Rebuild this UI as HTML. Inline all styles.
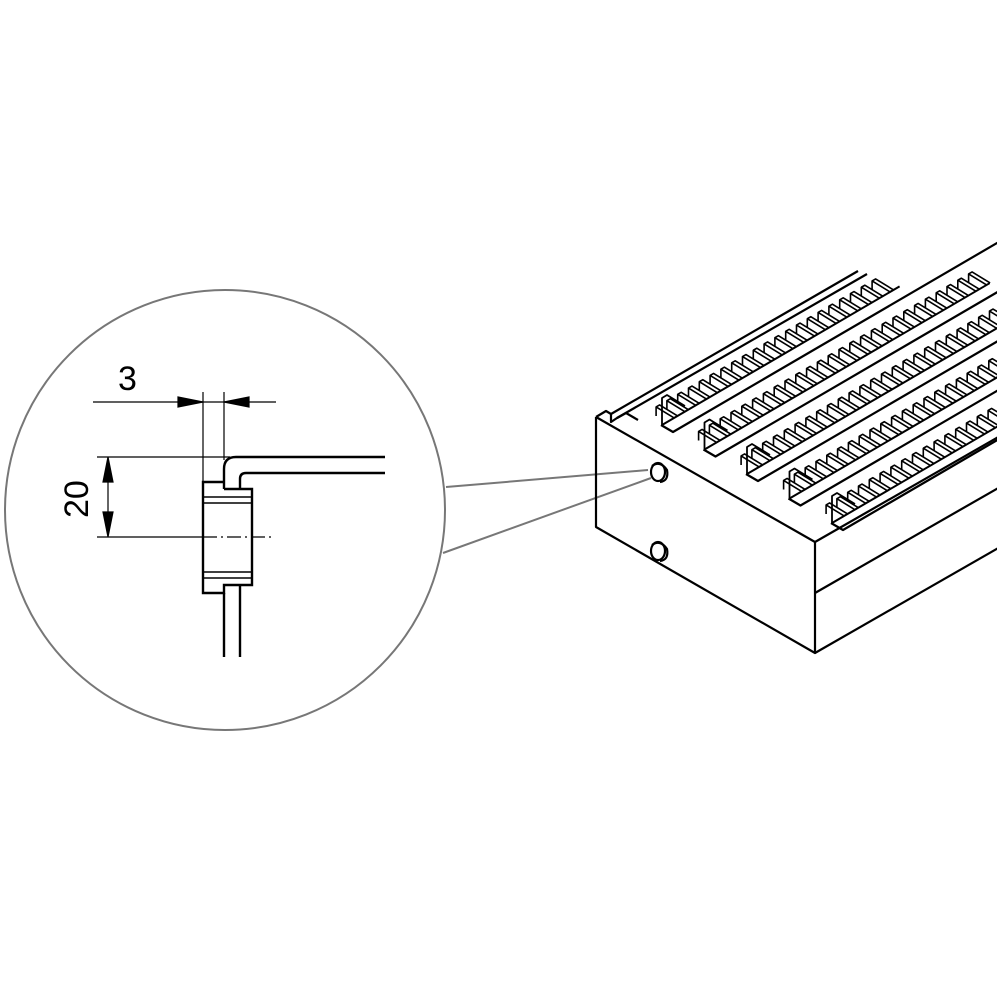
<!DOCTYPE html>
<html><head><meta charset="utf-8"><style>html,body{margin:0;padding:0;background:#fff}svg{display:block}</style></head>
<body>
<svg id="s" width="1000" height="1000" viewBox="0 0 1000 1000" xmlns="http://www.w3.org/2000/svg">
<defs>
<clipPath id="cr"><rect x="0" y="0" width="997" height="1000"/></clipPath>
</defs>
<circle cx="225" cy="510" r="220" fill="none" stroke="#777" stroke-width="2"/>
<line x1="446" y1="487" x2="648" y2="470" stroke="#777" stroke-width="2"/>
<line x1="443" y1="553" x2="651" y2="478" stroke="#777" stroke-width="2"/>

<g stroke="#000" fill="none" stroke-width="1.2">
<line x1="93" y1="402" x2="276" y2="402"/>
<path d="M178,397 L203,402 L178,407z" fill="#000"/>
<path d="M249,397 L224,402 L249,407z" fill="#000"/>
<line x1="203" y1="392" x2="203" y2="482"/>
<line x1="224" y1="392" x2="224" y2="460"/>
<line x1="97" y1="457" x2="230" y2="457"/>
<line x1="97" y1="537" x2="203" y2="537"/>
<line x1="203" y1="537" x2="272" y2="537" stroke-dasharray="14,4,2,4"/>
<line x1="108" y1="470" x2="108" y2="525"/>
<path d="M103,482 L108,457 L113,482z" fill="#000"/>
<path d="M103,512 L108,537 L113,512z" fill="#000"/>
</g>
<g stroke="#000" fill="none" stroke-width="2.4">
<path d="M385,457 L236,457 Q224,457 224,469 L224,489"/>
<path d="M385,473 L246,473 Q240,473 240,479 L240,489"/>
<path d="M224,489 L252,489 L252,585 L224,585 L224,593 L203,593 L203,482 L224,482"/>
<line x1="203" y1="497" x2="252" y2="497" stroke-width="1.5"/>
<line x1="203" y1="503" x2="252" y2="503" stroke-width="1.5"/>
<line x1="203" y1="572" x2="252" y2="572" stroke-width="1.5"/>
<line x1="203" y1="578" x2="252" y2="578" stroke-width="1.5"/>
<line x1="224" y1="593" x2="224" y2="657"/>
<line x1="240" y1="585" x2="240" y2="657"/>
</g>
<text x="118" y="390" font-family="Liberation Sans, sans-serif" font-size="34">3</text>
<text transform="translate(88,518) rotate(-90)" font-family="Liberation Sans, sans-serif" font-size="34">20</text>

<g id="box" stroke="#000" fill="none" stroke-width="2.2" clip-path="url(#cr)" stroke-linejoin="round">
<path d="M596,417 L596,527 L815,653 L815,542 L596,417"/>
<line x1="815" y1="542" x2="1000" y2="436"/>
<line x1="815" y1="593" x2="1000" y2="487"/>
<line x1="815" y1="653" x2="1000" y2="547"/>
<path d="M596,417 L606,411 L611,414 L858,271"/>
<path d="M611,414 L611,422 L617,418 L867,274"/>
<path d="M617,418 L626,413 L638,420"/>
<ellipse cx="658" cy="472" rx="7" ry="9"/>
<path d="M652,466 Q660,460 667,470 Q669,481 660,482"/>
<ellipse cx="658" cy="551" rx="7" ry="9"/>
<path d="M652,545 Q660,539 667,549 Q669,560 660,561"/>
</g>
</svg>
<script>
(function(){
var s=document.getElementById('box');var NS='http://www.w3.org/2000/svg';
function P(d,w){var p=document.createElementNS(NS,'path');p.setAttribute('d',d);if(w)p.setAttribute('stroke-width',w);s.appendChild(p);}
var ux=0.864,uy=-0.504;
for(var i=0;i<5;i++){
 var bx=662+42.5*i,by=425+24.5*i;
 var px=bx+11,py=by+7;
 P('M'+(px-12)+','+(py-7)+' L'+px+','+py+' L'+(px+400*ux)+','+(py+400*uy));
 var L=(i==0)?275:(i==1?330:420);
 P('M'+bx+','+by+' L'+(bx+L*ux)+','+(by+L*uy),2);
 P('M'+bx+','+by+' l0,-27 l5,-3 l18,11',1.8);
 for(var t=14;t<L;t+=12.5){
  var x=bx+t*ux,y=by+t*uy;
  var qx=x-18,qy=y-11;
  P('M'+qx+','+(qy+9)+' L'+qx+','+qy+' L'+x+','+y+' M'+qx+','+qy+' l3.5,-2 L'+(x+3.5)+','+(y-2),1.6);
 }
}
})();
</script>
</body></html>
